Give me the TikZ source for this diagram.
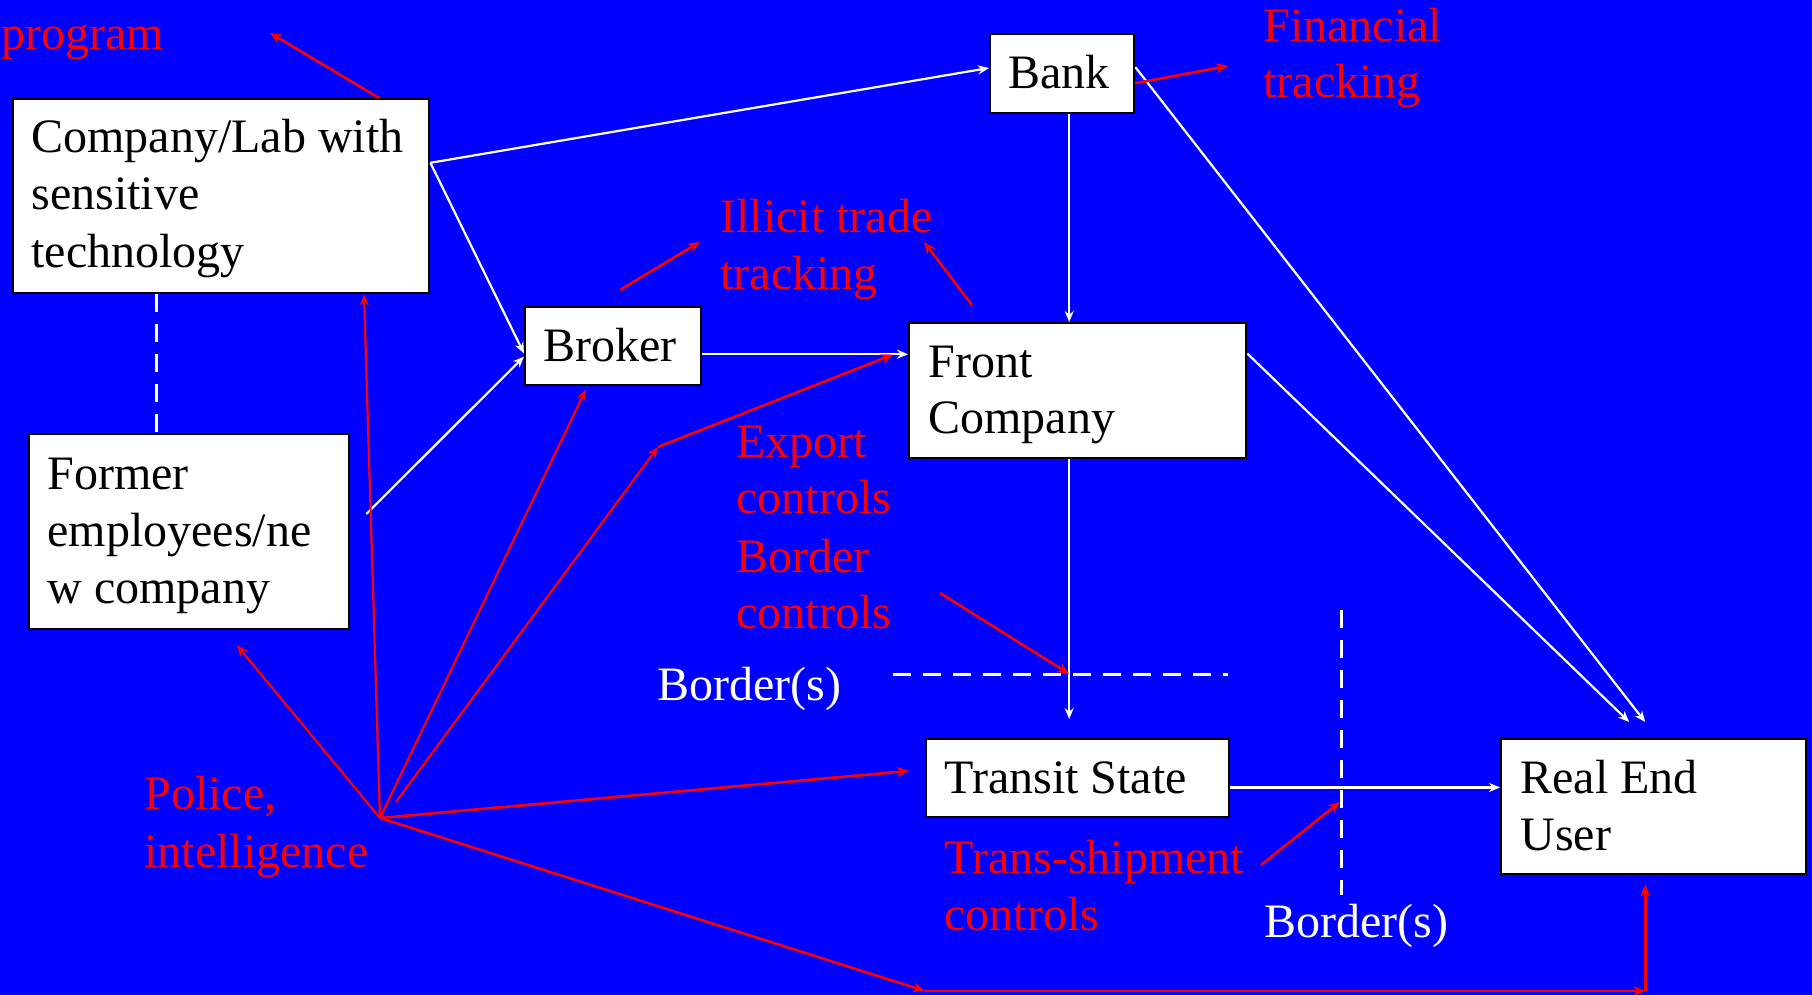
\documentclass[tikz,border=0pt]{standalone}
\usepackage{fontspec}
\setmainfont{Liberation Serif}
\usetikzlibrary{arrows.meta,calc}
\definecolor{bgblue}{RGB}{0,0,255}
\definecolor{tred}{RGB}{255,0,0}
\begin{document}
\begin{tikzpicture}[x=0.5pt,y=-0.5pt,
  box/.style={draw=black, line width=1.2pt, fill=white, inner sep=0pt, anchor=north west},
  txt/.style={inner sep=0pt, anchor=base west, font=\fontsize{24}{28}\selectfont},
  blk/.style={txt, text=black},
  red/.style={txt, text=tred},
  wht/.style={txt, text=white},
  wl/.style={draw=white, line width=1.1pt, -{Stealth[length=5.5pt,width=4.5pt]}},
  rl/.style={draw=tred, line width=1.1pt, -{Stealth[length=5.5pt,width=4.5pt]}},
  rlt/.style={draw=tred, line width=1.3pt, -{Stealth[length=6pt,width=5pt]}},
  bd/.style={draw=white, line width=1.5pt, dash pattern=on 9pt off 6pt}]
\useasboundingbox (0,0) rectangle (1812,995);
\fill[bgblue] (0,0) rectangle (1812,995);

% boxes
\node[box, minimum width=208pt, minimum height=97pt] (comp) at (12,98) {};
\node[box, minimum width=72pt, minimum height=39.5pt] (bank) at (989,33) {};
\node[box, minimum width=88pt, minimum height=39pt] (broker) at (524,306) {};
\node[box, minimum width=168.5pt, minimum height=67.5pt] (front) at (908,322) {};
\node[box, minimum width=160pt, minimum height=97.5pt] (former) at (28,433) {};
\node[box, minimum width=151.5pt, minimum height=39pt] (transit) at (925,738) {};
\node[box, minimum width=152.5pt, minimum height=67.5pt] (real) at (1500,738) {};

% box texts
\node[blk] (t1) at (31,153) {Company/Lab with};
\node[blk] (t2) at (31,210) {sensitive};
\node[blk] (t3) at (31,267) {technology};
\node[blk] (t4) at (1008,89) {Bank};
\node[blk] (t5) at (543,361) {Broker};
\node[blk] (t6) at (928,377) {Front};
\node[blk] (t7) at (928,433) {Company};
\node[blk] (t8) at (47,489) {Former};
\node[blk] (t9) at (47,546) {employees/ne};
\node[blk] (t10) at (47,603) {w company};
\node[blk] (t11) at (944,793) {Transit State};
\node[blk] (t12) at (1520,793) {Real End};
\node[blk] (t13) at (1520,850) {User};

% red labels
\node[red] (l1) at (1,50) {program};
\node[red] (l2) at (720,233) {Illicit trade};
\node[red] (l3) at (720,290) {tracking};
\node[red] (l4) at (1263,42) {Financial};
\node[red] (l5) at (1263,98) {tracking};
\node[red] (l6) at (736,457) {Export};
\node[red] (l7) at (736,513) {controls};
\node[red] (l8) at (736,572) {Border};
\node[red] (l9) at (736,628) {controls};
\node[red] (l10) at (144,809) {Police,};
\node[red] (l11) at (144,867) {intelligence};
\node[red] (l12) at (944,873) {Trans-shipment};
\node[red] (l13) at (944,930) {controls};

% white labels
\node[wht] (w1) at (657,700) {Border(s)};
\node[wht] (w2) at (1264,937) {Border(s)};

% borders
\coordinate (bh1) at (893,674);
\coordinate (bh2) at (1228,674);
\coordinate (bv1) at (1341,610);
\coordinate (bv2) at (1341,895);
\draw[bd] (bh1) -- (bh2);
\draw[bd] (bv1) -- (bv2);
\draw[bd] ($(comp.south west)+(144,0)$) -- ($(former.north west)+(128,0)$);

% white connectors
\coordinate (c1) at ($(comp.north east)!0.33!(comp.south east)$);
\draw[wl] (c1) -- ($(bank.north west)!0.43!(bank.south west)$);
\draw[wl] (c1) -- ($(broker.north west)!0.59!(broker.south west)$);
\draw[wl] ($(former.north east)!0.41!(former.south east)+(16,0)$) -- ($(broker.north west)!0.63!(broker.south west)$);
\coordinate (b1) at ($(broker.north east)!0.6!(broker.south east)$);
\draw[wl] (b1) -- (front.west |- b1);
\coordinate (bx) at ($(bank.south)+(7,0)$);
\draw[wl] (bx) -- (bx |- front.north);
\draw[wl] (bx |- front.south) -- ($(bx |- transit.north)+(0,-19)$);
\coordinate (tr1) at ($(transit.north east)!0.615!(transit.south east)$);
\draw[wl] (tr1) -- (real.west |- tr1);
\draw[wl] ($(front.north east)!0.23!(front.south east)$) -- ($(real.north)+(-24.5,-16)$);
\draw[wl] ($(bank.east)+(0,-6.5)$) -- ($(real.north)+(-8.5,-16)$);

% red label arrows
\coordinate (pgm) at (270,33);
\draw[rlt] ($(comp.north west)+(367,0)$) -- (pgm);
\coordinate (fin) at (1228,66);
\draw[rlt] ($(bank.east)+(0,9.5)$) -- (fin);
\coordinate (it1) at (620,290);
\coordinate (it2) at (700,242);
\draw[rlt] (it1) -- (it2);
\coordinate (it3) at (972,305);
\coordinate (it4) at (924,242);
\draw[rlt] (it3) -- (it4);
\coordinate (bc) at (940,593);
\draw[rlt] (bc) -- (bx |- bh1);
\coordinate (ts1) at (1261,865);
\coordinate (ts2) at (1340,802);
\draw[rlt] (ts1) -- (ts2);

% police fan
\coordinate (pol) at (380,818);
\coordinate (pol2) at (396,802);
\coordinate (ex) at (658,447);
\draw[rl] (pol) -- ($(former.south west)+(209,15)$);
\draw[rl] (pol) -- ($(comp.south west)+(352,0)$);
\draw[rl] (pol) -- ($(broker.south west)+(62,3)$);
\draw[rl] (pol2) -- (ex);
\draw[rlt] (ex) -- ($(front.north west)!0.237!(front.south west)+(-15,0)$);
\draw[rlt] (pol) -- ($(transit.north west)!0.41!(transit.south west)+(-16,0)$);
\coordinate (cr1) at (925,991);
\coordinate (cr2) at ($(real.south |- cr1)+(-8.5,0)$);
\draw[rlt] (pol) -- (cr1);
\draw[rlt] (cr1) -- (cr2);
\draw[rlt] (cr2) -- ($(real.south)+(-8.5,9)$);
\end{tikzpicture}
\end{document}
